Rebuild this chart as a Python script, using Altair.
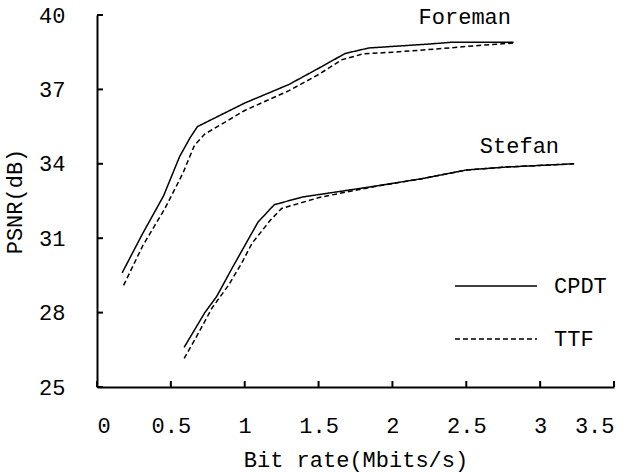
import altair as alt
import pandas as pd

# Foreman sequence
foreman_cpdt_x = [0.17, 0.31, 0.45, 0.56, 0.63, 0.68, 1.0, 1.3, 1.5, 1.68, 1.84, 2.25, 2.4, 2.82]
foreman_cpdt_y = [29.6, 31.2, 32.7, 34.3, 35.05, 35.5, 36.45, 37.2, 37.85, 38.45, 38.67, 38.83, 38.9, 38.9]
foreman_ttf_x = [0.18, 0.31, 0.46, 0.58, 0.66, 0.73, 1.0, 1.3, 1.5, 1.66, 1.8, 2.0, 2.3, 2.6, 2.82]
foreman_ttf_y = [29.1, 30.7, 32.2, 33.6, 34.75, 35.2, 36.15, 36.95, 37.6, 38.2, 38.43, 38.5, 38.63, 38.78, 38.87]

# Stefan sequence
stefan_cpdt_x = [0.59, 0.73, 0.81, 0.92, 1.09, 1.2, 1.39, 1.84, 2.2, 2.5, 2.77, 3.23]
stefan_cpdt_y = [26.6, 28.0, 28.65, 29.85, 31.65, 32.35, 32.66, 33.06, 33.4, 33.75, 33.87, 34.0]
stefan_ttf_x = [0.59, 0.68, 0.78, 0.89, 0.98, 1.05, 1.17, 1.25, 1.51, 1.84, 2.2, 2.5, 2.77, 3.23]
stefan_ttf_y = [26.15, 27.1, 28.2, 29.1, 30.0, 30.8, 31.7, 32.2, 32.65, 33.04, 33.4, 33.75, 33.87, 34.0]

methods = ["CPDT", "TTF"]
x_ticks = [0, 0.5, 1, 1.5, 2, 2.5, 3, 3.5]
y_ticks = [25, 28, 31, 34, 37, 40]

seq_names = ["Foreman", "Stefan"]
seq_label_x = [2.49, 2.86]
seq_label_y = [39.92, 34.72]

rows = []
for seq, m, xs, ys in [
    ("Foreman", "CPDT", foreman_cpdt_x, foreman_cpdt_y),
    ("Foreman", "TTF", foreman_ttf_x, foreman_ttf_y),
    ("Stefan", "CPDT", stefan_cpdt_x, stefan_cpdt_y),
    ("Stefan", "TTF", stefan_ttf_x, stefan_ttf_y),
]:
    for i, (x, y) in enumerate(zip(xs, ys)):
        rows.append({"seq": seq, "method": m, "series": seq + "-" + m, "x": x, "y": y, "order": i})
df = pd.DataFrame(rows)

FONT = "Liberation Mono"
W, H = 517, 372

xscale = alt.Scale(domain=[0, 3.5], nice=False, zero=False)
yscale = alt.Scale(domain=[25, 40], nice=False, zero=False)

lines = alt.Chart(df).mark_line(color="black", strokeWidth=1.5).encode(
    x=alt.X("x:Q", scale=xscale,
            axis=alt.Axis(values=x_ticks, title="Bit rate(Mbits/s)", tickSize=0,
                          labelPadding=28, titlePadding=13, grid=False,
                          labelExpr="datum.value == 0 ? '0' : format(datum.value, '~g')")),
    y=alt.Y("y:Q", scale=yscale,
            axis=alt.Axis(values=y_ticks, title="PSNR(dB)", tickSize=0,
                          labelPadding=32, titlePadding=12, grid=False)),
    strokeDash=alt.StrokeDash("method:N", scale=alt.Scale(domain=methods, range=[[1, 0], [5, 3]]),
                              legend=alt.Legend(title=None, orient="none", legendX=357, legendY=229,
                                                symbolType="stroke", symbolSize=6724,
                                                symbolStrokeColor="black", symbolStrokeWidth=1.5,
                                                labelFont=FONT, labelFontSize=22, labelColor="black",
                                                labelOffset=16, rowPadding=0)),
    detail="series:N",
    order="order:Q",
)

xt = alt.Chart(pd.DataFrame({"t": x_ticks})).mark_rule(color="black", strokeWidth=2).encode(
    x=alt.X("t:Q", scale=xscale), y=alt.value(H), y2=alt.value(H - 6))
yt = alt.Chart(pd.DataFrame({"t": y_ticks})).mark_rule(color="black", strokeWidth=2).encode(
    y=alt.Y("t:Q", scale=yscale), x=alt.value(0), x2=alt.value(6))

labels = alt.Chart(pd.DataFrame({"name": seq_names, "x": seq_label_x, "y": seq_label_y})).mark_text(
    font=FONT, fontSize=22, color="black", align="center", baseline="middle").encode(
    x=alt.X("x:Q", scale=xscale), y=alt.Y("y:Q", scale=yscale), text="name:N")

chart = alt.layer(lines, xt, yt, labels).properties(
    width=W, height=H,
    autosize=alt.AutoSizeParams(type="none"),
    padding={"left": 97, "top": 15, "right": 26, "bottom": 86},
    background="white",
).configure_view(stroke=None).configure_axis(
    domainColor="black", domainWidth=2,
    labelFont=FONT, labelFontSize=22, labelColor="black",
    titleFont=FONT, titleFontSize=22, titleColor="black", titleFontWeight="normal",
)

chart.save("out.html", embed_options={"renderer": "svg", "actions": False})
